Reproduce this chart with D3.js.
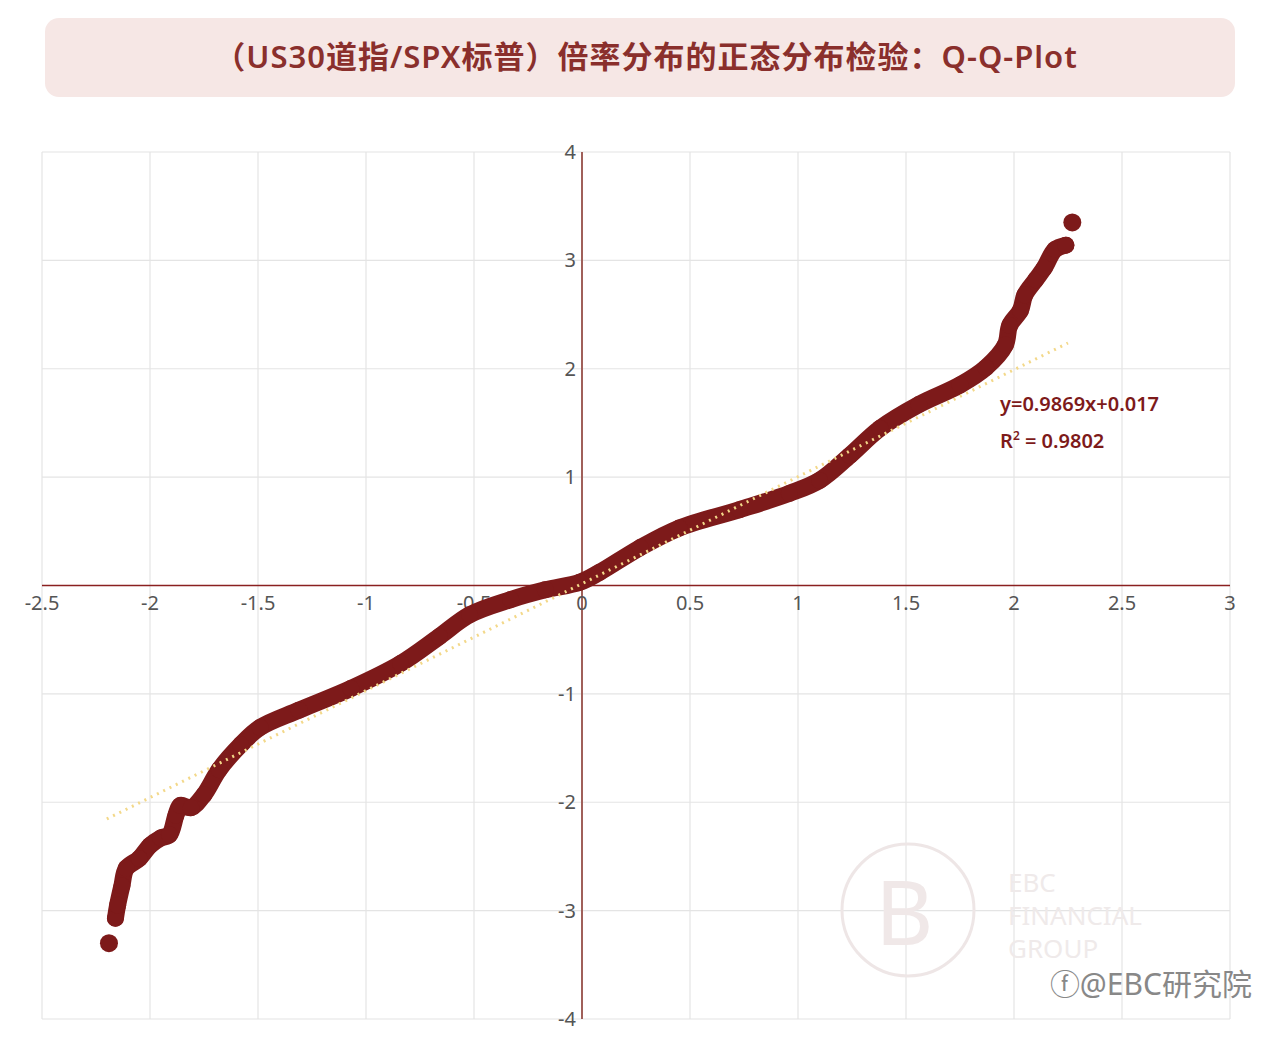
<!DOCTYPE html>
<html><head><meta charset="utf-8">
<script src="https://cdn.jsdelivr.net/npm/d3@7"></script>
<style>body{margin:0;background:#fff;font-family:"Noto Sans","Noto Sans CJK SC",sans-serif}</style>
</head><body><div id="canvas"></div>
<script>
// sample quantiles
const theoretical = [-2.19,-2.16,-2.15,-2.13,-2.11,-2.05,-2.0,-1.95,-1.91,-1.88,-1.86,-1.81,-1.75,-1.68,-1.58,-1.49,-1.31,-1.07,-0.84,-0.66,-0.52,-0.33,-0.17,-0.01,0.08,0.27,0.45,0.73,0.96,1.10,1.24,1.38,1.56,1.75,1.87,1.96,1.98,2.03,2.05,2.10,2.14,2.19,2.24,2.27];
const observed = [-3.30,-3.07,-2.95,-2.77,-2.61,-2.52,-2.40,-2.33,-2.30,-2.12,-2.03,-2.05,-1.93,-1.70,-1.47,-1.31,-1.15,-0.95,-0.72,-0.47,-0.27,-0.13,-0.04,0.03,0.12,0.35,0.53,0.70,0.85,0.97,1.20,1.45,1.67,1.85,2.01,2.22,2.40,2.54,2.68,2.82,2.93,3.10,3.14,3.35];
const xTicks = [-2.5,-2,-1.5,-1,-0.5,0,0.5,1,1.5,2,2.5,3];
const yTicks = [-4,-3,-2,-1,1,2,3,4];
const slope = 0.9869, intercept = 0.017;

const W = 1268, H = 1043;
const red = "#7d1a1a";
const svg = d3.select("#canvas").append("svg").attr("width", W).attr("height", H);

svg.append("rect").attr("x", 45).attr("y", 18).attr("width", 1190).attr("height", 79)
  .attr("rx", 14).attr("fill", "#f6e7e5");
svg.append("text").attr("x", 646).attr("y", 68).attr("text-anchor", "middle")
  .attr("font-size", 31).attr("font-weight", 600).attr("fill", "#8a2f2c")
  .attr("letter-spacing", 1)
  .text("（US30道指/SPX标普）倍率分布的正态分布检验：Q-Q-Plot");

const x = d3.scaleLinear().domain([-2.5, 3]).range([42, 1230]);
const y = d3.scaleLinear().domain([-4, 4]).range([1019, 152]);

const grid = svg.append("g").attr("stroke", "#e4e4e4").attr("stroke-width", 1.2);
xTicks.forEach(t => grid.append("line").attr("x1", x(t)).attr("x2", x(t)).attr("y1", y(4)).attr("y2", y(-4)));
[-4,-3,-2,-1,0,1,2,3,4].forEach(t => grid.append("line").attr("x1", x(-2.5)).attr("x2", x(3)).attr("y1", y(t)).attr("y2", y(t)));

svg.append("line").attr("x1", x(-2.5)).attr("x2", x(3)).attr("y1", y(0)).attr("y2", y(0))
  .attr("stroke", "#8a2020").attr("stroke-width", 1.5);
svg.append("line").attr("x1", x(0)).attr("x2", x(0)).attr("y1", y(4)).attr("y2", y(-4))
  .attr("stroke", "#a0605a").attr("stroke-width", 2);

const lab = svg.append("g").attr("font-size", 20).attr("fill", "#555");
xTicks.forEach(t => lab.append("text").attr("x", x(t)).attr("y", y(0) + 24)
  .attr("text-anchor", "middle").text(t));
yTicks.forEach(t => lab.append("text").attr("x", x(0) - 6).attr("y", y(t) + 7)
  .attr("text-anchor", "end").text(t));

// watermark
svg.append("circle").attr("cx", 908).attr("cy", 910).attr("r", 66)
  .attr("fill", "none").attr("stroke", "#eee6e6").attr("stroke-width", 3);
svg.append("text").attr("x", 875).attr("y", 945).attr("font-size", 90).attr("fill", "#f0e8e8").text("B");
svg.append("g").attr("font-size", 26).attr("fill", "#efeaea").selectAll("text")
  .data(["EBC", "FINANCIAL", "GROUP"]).join("text")
  .attr("x", 1008).attr("y", (d, i) => 892 + i * 33).text(d => d);

const pts = theoretical.map((t, i) => [t, observed[i]]);
svg.append("path").datum(pts.slice(1, -1))
  .attr("d", d3.line().x(d => x(d[0])).y(d => y(d[1])).curve(d3.curveCatmullRom))
  .attr("fill", "none").attr("stroke", red).attr("stroke-width", 17)
  .attr("stroke-linecap", "round").attr("stroke-linejoin", "round");
svg.append("g").selectAll("circle").data(pts).join("circle")
  .attr("cx", d => x(d[0])).attr("cy", d => y(d[1])).attr("r", d => (d === pts[0] || d === pts[pts.length - 1]) ? 9 : 8.5)
  .attr("fill", red);

svg.append("line").attr("x1", x(-2.2)).attr("y1", y(slope * -2.2 + intercept))
  .attr("x2", x(2.25)).attr("y2", y(slope * 2.25 + intercept))
  .attr("stroke", "#f3d889").attr("stroke-width", 3).attr("stroke-dasharray", "2,5");

svg.append("text").attr("x", 1000).attr("y", 411).attr("font-size", 20).attr("font-weight", 600).attr("fill", red)
  .text("y=0.9869x+0.017");
svg.append("text").attr("x", 1000).attr("y", 448).attr("font-size", 20).attr("font-weight", 600).attr("fill", red)
  .html('R<tspan dy="-8" font-size="12">2</tspan><tspan dy="8"> = 0.9802</tspan>');

svg.append("text").attr("x", 1252).attr("y", 995).attr("text-anchor", "end")
  .attr("font-size", 30).attr("fill", "#888").text("ⓕ@EBC研究院");
</script></body></html>
